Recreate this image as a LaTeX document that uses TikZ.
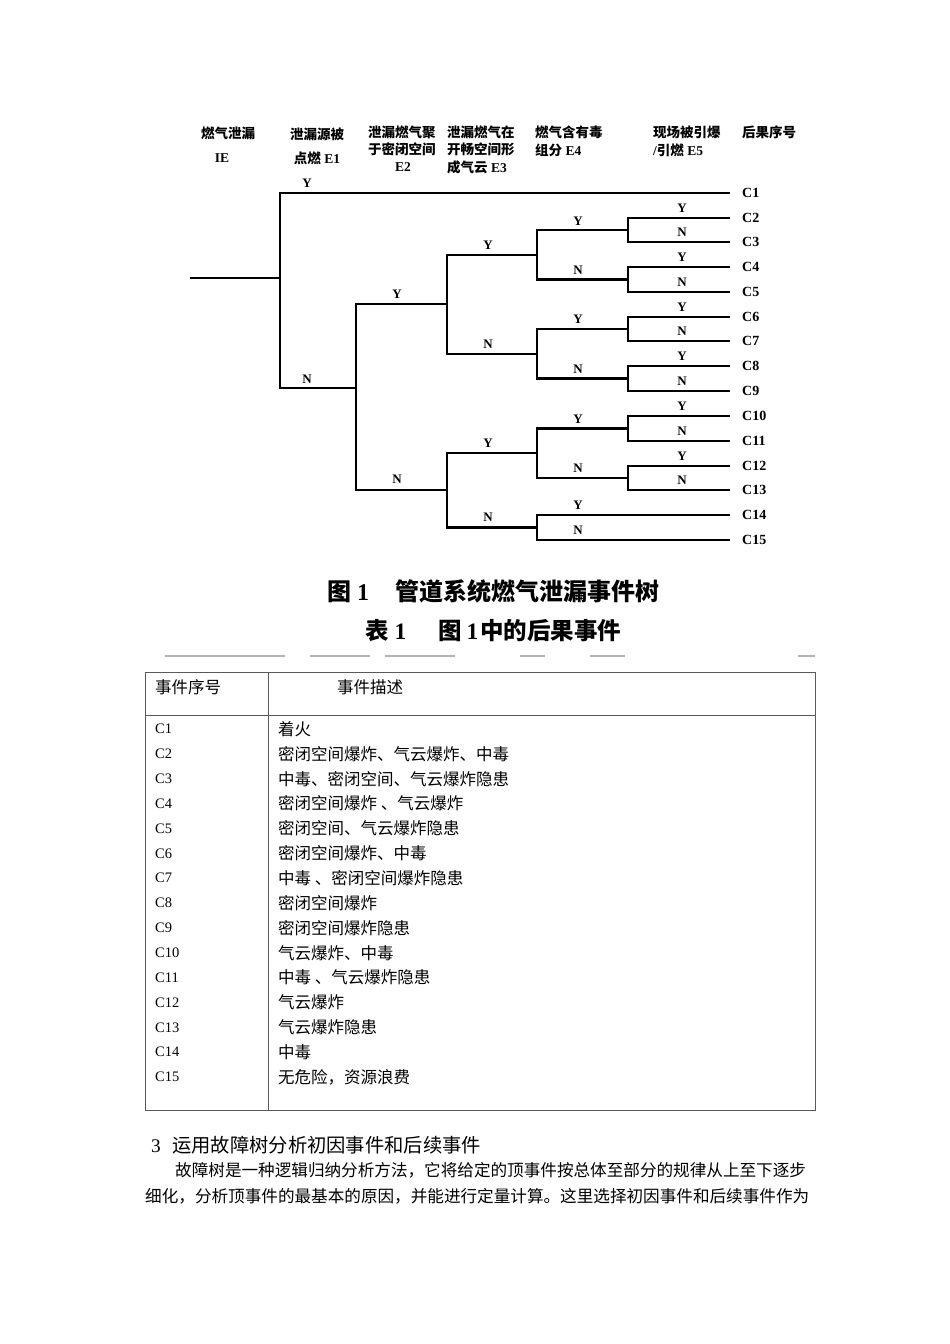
\documentclass[tikz,border=0pt]{standalone}
\usepackage{fontspec}
\setmainfont{Liberation Serif}
\newfontfamily\cjk{Noto Sans CJK SC}
\begin{document}
\begin{tikzpicture}[x=1pt,y=-1pt,
  tree/.style={line width=2.6pt,line join=miter,black},
  yn/.style={font=\bfseries\fontsize{13}{13}\selectfont,inner sep=0pt},
  leaf/.style={font=\bfseries\fontsize{14}{14}\selectfont,inner sep=0pt,anchor=west},
  hdr/.style={font=\bfseries\fontsize{13.5}{14}\selectfont,inner sep=0pt},
  hdrl/.style={hdr,anchor=west},
  captext/.style={font=\bfseries\fontsize{24}{25}\selectfont,inner sep=0pt,anchor=west},
  tbl/.style={line width=1pt,black!65},
  ttx/.style={font=\fontsize{16.5}{17}\selectfont,inner sep=0pt,anchor=west},
  clab/.style={font=\fontsize{14.5}{15}\selectfont,inner sep=0pt,anchor=west},
  body/.style={font=\fontsize{16.6}{17}\selectfont,inner sep=0pt,anchor=west},
  deco/.style={line width=2pt,black!30}]
\fill[white] (0,0) rectangle (950,1344);
\useasboundingbox (0,0) rectangle (950,1344);

% ---------- header ----------
\node[hdr] (h1a) at (228,133) {\cjk 燃气泄漏};
\node[hdr] (h1b) at (222,158) {IE};
\node[hdr] (h2a) at (317,134) {\cjk 泄漏源被};
\node[hdr] (h2b) at (317,158) {{\cjk 点燃} E1};
\node[hdrl] (h3a) at (368,132) {\cjk 泄漏燃气聚};
\node[hdrl] (h3b) at (368,149) {\cjk 于密闭空间};
\node[hdr] (h3c) at (403,167) {E2};
\node[hdrl] (h4a) at (447,132) {\cjk 泄漏燃气在};
\node[hdrl] (h4b) at (447,149) {\cjk 开畅空间形};
\node[hdrl] (h4c) at (447,167) {{\cjk 成气云} E3};
\node[hdrl] (h5a) at (535,132) {\cjk 燃气含有毒};
\node[hdrl] (h5b) at (535,150) {{\cjk 组分} E4};
\node[hdrl] (h6a) at (653,132) {\cjk 现场被引爆};
\node[hdrl] (h6b) at (653,150) {/{\cjk 引燃} E5};
\node[hdrl] (h7a) at (742,132) {\cjk 后果序号};

% ---------- tree junctions ----------
\coordinate (r0) at (190,278);
\coordinate (j1) at (280,278);
\coordinate (j2) at (356,388);
\coordinate (j3a) at (447,304);
\coordinate (j3b) at (447,490);
\coordinate (j4a) at (537,255);
\coordinate (j4b) at (537,354);
\coordinate (j4c) at (537,453);
\coordinate (j4d) at (537,527.5);
\coordinate (j5a) at (628,230);
\coordinate (j5b) at (628,279.5);
\coordinate (j5c) at (628,329);
\coordinate (j5d) at (628,378.5);
\coordinate (j5e) at (628,428.5);
\coordinate (j5f) at (628,478);
\foreach \i/\yy in {1/193,2/218,3/242,4/267,5/292,6/317,7/341,8/366,9/391,10/416,11/441,12/466,13/490,14/515,15/540}{
  \coordinate (e\i) at (730,\yy);
  \node[leaf] (C\i) at (742,\yy) {C\i};
}

\draw[tree] (r0) -- (j1);
\draw[tree] (j1) |- (e1);
\draw[tree] (j1) |- (j2);
\draw[tree] (j2) |- (j3a);
\draw[tree] (j2) |- (j3b);
\draw[tree] (j3a) |- (j4a);
\draw[tree] (j3a) |- (j4b);
\draw[tree] (j3b) |- (j4c);
\draw[tree] (j3b) |- (j4d);
\draw[tree] (j4a) |- (j5a);
\draw[tree] (j4a) |- (j5b);
\draw[tree] (j4b) |- (j5c);
\draw[tree] (j4b) |- (j5d);
\draw[tree] (j4c) |- (j5e);
\draw[tree] (j4c) |- (j5f);
\draw[tree] (j4d) |- (e14);
\draw[tree] (j4d) |- (e15);
\draw[tree] (j5a) |- (e2);
\draw[tree] (j5a) |- (e3);
\draw[tree] (j5b) |- (e4);
\draw[tree] (j5b) |- (e5);
\draw[tree] (j5c) |- (e6);
\draw[tree] (j5c) |- (e7);
\draw[tree] (j5d) |- (e8);
\draw[tree] (j5d) |- (e9);
\draw[tree] (j5e) |- (e10);
\draw[tree] (j5e) |- (e11);
\draw[tree] (j5f) |- (e12);
\draw[tree] (j5f) |- (e13);

% ---------- Y / N labels ----------
\node[yn] (y1) at (307,183) {Y};
\node[yn] (n1) at (307,379) {N};
\node[yn] (y2) at (397,294) {Y};
\node[yn] (n2) at (397,479) {N};
\node[yn] (y3a) at (488,245) {Y};
\node[yn] (n3a) at (488,344) {N};
\node[yn] (y3b) at (488,443) {Y};
\node[yn] (n3b) at (488,517) {N};
\foreach \k/\l/\yy in {a/Y/221,b/N/270,c/Y/319,d/N/369,e/Y/419,f/N/468,g/Y/505,h/N/530}{
  \node[yn] (l4\k) at (578,\yy) {\l};
}
\foreach \k/\l/\yy in {a/Y/208,b/N/232,c/Y/257,d/N/282,e/Y/307,f/N/331,g/Y/356,h/N/381,i/Y/406,j/N/431,k/Y/456,l/N/480}{
  \node[yn] (l5\k) at (682,\yy) {\l};
}

% ---------- captions ----------
\node[captext] (cap1) at (327,591) {\makebox[68pt][l]{{\cjk 图} 1}{\cjk 管道系统燃气泄漏事件树}};
\node[captext,font=\bfseries\fontsize{23.5}{24}\selectfont] (cap2) at (365,631) {\makebox[73pt][l]{{\cjk 表} 1}{\cjk 图}\hspace{5pt}1\hspace{2pt}{\cjk 中的后果事件}};

% faint scan line
\draw[deco] (165,656) -- (285,656);
\draw[deco] (310,656) -- (370,656);
\draw[deco] (385,656) -- (455,656);
\draw[deco] (520,656) -- (545,656);
\draw[deco] (590,656) -- (625,656);
\draw[deco] (798,656) -- (815,656);

% ---------- table ----------
\draw[tbl] (145,672) rectangle (815,1110);
\draw[tbl] (268,672) -- (268,1110);
\draw[tbl] (145,715) -- (815,715);
\node[ttx] (th1) at (155,687) {\cjk 事件序号};
\node[ttx] (th2) at (337,687) {\cjk 事件描述};
\foreach \i/\t in {1/{着火},2/{密闭空间爆炸、气云爆炸、中毒},3/{中毒、密闭空间、气云爆炸隐患},4/{密闭空间爆炸 、气云爆炸},5/{密闭空间、气云爆炸隐患},6/{密闭空间爆炸、中毒},7/{中毒 、密闭空间爆炸隐患},8/{密闭空间爆炸},9/{密闭空间爆炸隐患},10/{气云爆炸、中毒},11/{中毒 、气云爆炸隐患},12/{气云爆炸},13/{气云爆炸隐患},14/{中毒},15/{无危险，资源浪费}}{
  \node[clab] (rc\i) at (155,{729+(\i-1)*24.86}) {C\i};
  \node[ttx] (rd\i) at (278,{729+(\i-1)*24.86}) {\cjk \t};
}

% ---------- body text ----------
\node[body,font=\fontsize{19.3}{20}\selectfont] (sec) at (151,1145) {\makebox[21pt][l]{3}{\cjk 运用故障树分析初因事件和后续事件}};
\node[body] (p1) at (175,1170) {\cjk 故障树是一种逻辑归纳分析方法，它将给定的顶事件按总体至部分的规律从上至下逐步};
\node[body] (p2) at (145,1196) {\cjk 细化，分析顶事件的最基本的原因，并能进行定量计算。这里选择初因事件和后续事件作为};
\end{tikzpicture}
\end{document}
